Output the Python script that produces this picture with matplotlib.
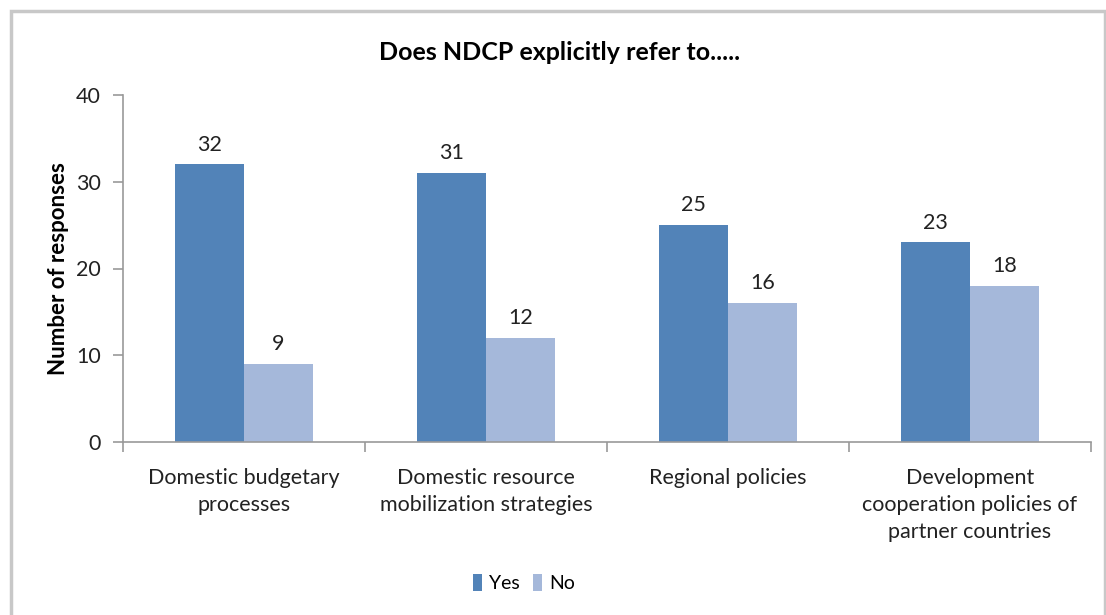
import matplotlib
matplotlib.use("Agg")
import matplotlib.pyplot as plt
import numpy as np
from matplotlib.patches import Rectangle

categories = ["Domestic budgetary\nprocesses",
              "Domestic resource\nmobilization strategies",
              "Regional policies",
              "Development\ncooperation policies of\npartner countries"]
yes_vals = [32, 31, 25, 23]
no_vals = [9, 12, 16, 18]
series_names = ["Yes", "No"]
yticks = [0, 10, 20, 30, 40]

plt.rcParams['font.family'] = ['Lato', 'DejaVu Sans']

W, H = 1106, 615
fig = plt.figure(figsize=(W/100, H/100), dpi=100)

# chart border
fig.patches.append(Rectangle((11/W, -0.02), (1105-11)/W, (615-11)/H + 0.02,
                             transform=fig.transFigure, fill=False,
                             edgecolor="#c8c8c8", linewidth=2.5, zorder=0))

ax = fig.add_axes([123/W, 1-442/H, (1091-123)/W, (442-95)/H])
x = np.arange(len(categories))
bw = 0.285
c_yes = "#5283B8"
c_no = "#A5B8DA"
txt = "#222222"
b1 = ax.bar(x - bw/2, yes_vals, bw, color=c_yes, label=series_names[0])
b2 = ax.bar(x + bw/2, no_vals, bw, color=c_no, label=series_names[1])
for bars in (b1, b2):
    for r in bars:
        ax.annotate(f"{int(r.get_height())}", (r.get_x() + r.get_width()/2, r.get_height()),
                    xytext=(0, 7), textcoords="offset points", ha="center", va="bottom",
                    fontsize=15.5, color=txt)

ax.set_xlim(-0.5, len(categories) - 0.5)
ax.set_ylim(0, 40)
ax.set_yticks(yticks)
ax.set_yticklabels([str(t) for t in yticks], fontsize=15.5, color=txt)
ax.set_xticks(np.arange(len(categories) + 1) - 0.5)
ax.set_xticklabels([])
ax.set_xticks(x, minor=True)
ax.set_xticklabels(categories, minor=True, fontsize=15.5, color=txt, linespacing=1.42)
ax.tick_params(axis="x", which="minor", length=0, pad=19)
ax.tick_params(axis="x", which="major", length=7, color="#999999", width=1.2)
ax.tick_params(axis="y", length=7, color="#999999", width=1.2, pad=9)
for s in ["top", "right"]:
    ax.spines[s].set_visible(False)
for s in ["left", "bottom"]:
    ax.spines[s].set_color("#999999")
    ax.spines[s].set_linewidth(1.2)

ax.set_ylabel("Number of responses", fontsize=16, fontweight="bold", labelpad=5)
fig.text(560/W, 1-52/H, "Does NDCP explicitly refer to.....", ha="center", va="center",
         fontsize=18, fontweight="bold")

fig.legend(handles=[b1, b2], labels=series_names, loc="center", bbox_to_anchor=(524/W, 1-583/H),
           ncol=2, frameon=False, fontsize=14, handlelength=0.45, handleheight=0.95,
           handletextpad=0.35, columnspacing=0.7)

fig.savefig("out.png", dpi=100)
